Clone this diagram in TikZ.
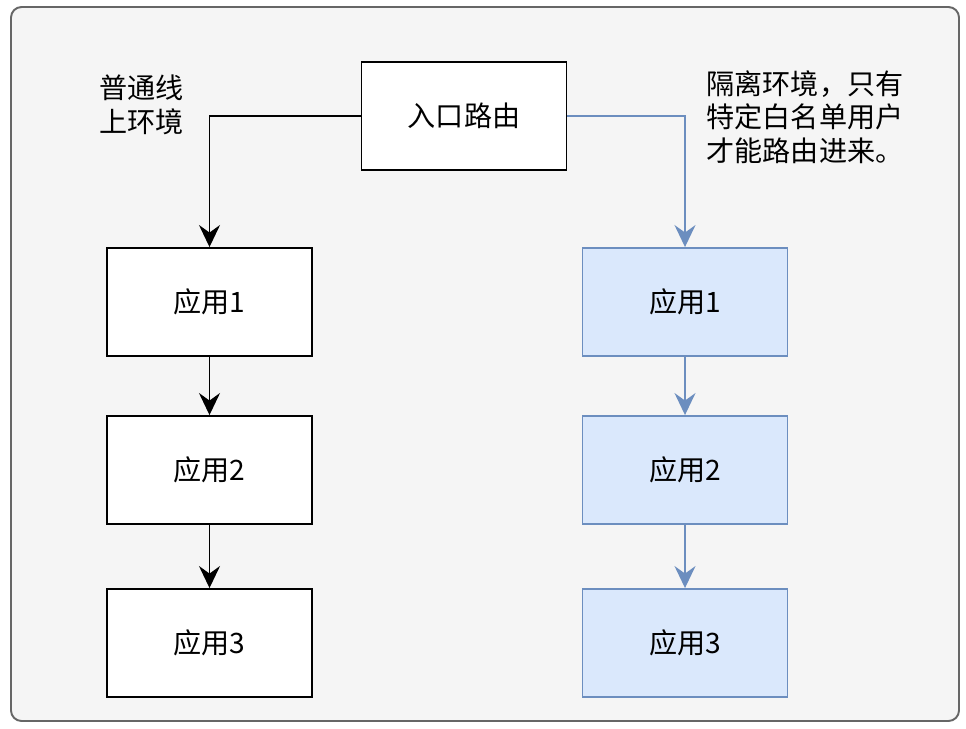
\documentclass[tikz,border=0pt]{standalone}
\usepackage{fontspec}
\setmainfont{Noto Sans CJK SC}
\usepackage{tikz}
\usetikzlibrary{arrows.meta}
\definecolor{PanelFill}{RGB}{245,245,245}
\definecolor{PanelLine}{RGB}{102,102,102}
\definecolor{BlueFill}{RGB}{218,232,252}
\definecolor{BlueLine}{RGB}{108,142,191}

\begin{document}
\begin{tikzpicture}[x=0.02cm, y=-0.02cm,
    font=\fontsize{16}{19}\selectfont,
    box/.style={draw, line width=1.1pt, minimum width=4.1cm, minimum height=2.16cm, fill=white},
    bluebox/.style={box, draw=BlueLine, fill=BlueFill},
    flow/.style={-{Stealth[length=4.4mm, width=4.2mm, inset=1.5mm]}, line width=1.1pt}]
      \useasboundingbox (0,0) rectangle (966,728);
      \draw[PanelLine, fill=PanelFill, line width=1.1pt, rounded corners=6pt] (11,7) rectangle (959,721);
      % entry
      \node[box] (entry) at (464,116) {入口路由};
      % online environment
      \node[box] (l1) at (209.5,302) {应用1};
      \node[box] (l2) at (209.5,470) {应用2};
      \node[box] (l3) at (209.5,643) {应用3};
      % isolated environment
      \node[bluebox] (r1) at (685,302) {应用1};
      \node[bluebox] (r2) at (685,470) {应用2};
      \node[bluebox] (r3) at (685,643) {应用3};
      \node[align=left] (lnote) at (141.5,105) {普通线\\上环境};
      \node[align=left] (rnote) at (805,117) {隔离环境，只有\\特定白名单用户\\才能路由进来。};
      \draw[flow] (entry.west) -| (l1.north);
      \draw[flow] (l1) -- (l2);
      \draw[flow] (l2) -- (l3);
      \draw[flow, BlueLine] (entry.east) -| (r1.north);
      \draw[flow, BlueLine] (r1) -- (r2);
      \draw[flow, BlueLine] (r2) -- (r3);
    \end{tikzpicture}
\end{document}
